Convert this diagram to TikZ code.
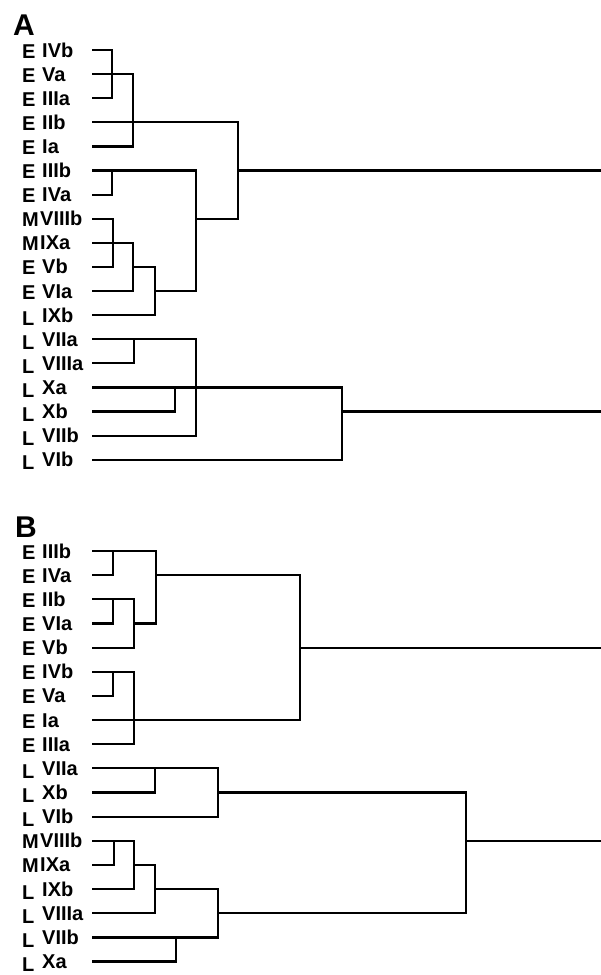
\documentclass[tikz,border=0pt]{standalone}
\usepackage{fontspec}
\setmainfont{Liberation Sans}
\begin{document}
\begin{tikzpicture}[x=1pt,y=-1pt,
  tree/.style={line width=2.2pt, line join=miter},
  lab/.style={font=\bfseries\fontsize{20}{20}\selectfont, inner sep=0pt, anchor=base west},
  panel/.style={font=\bfseries\fontsize{30}{30}\selectfont, inner sep=0pt, anchor=base west},
  pE/.style={yshift=-1pt}, pM/.style={yshift=-1pt}, pL/.style={yshift=-3pt},
  sE/.style={}, sM/.style={xshift=-2pt}, sL/.style={}]
\useasboundingbox (0,0) rectangle (601,975);
% column coordinates
\foreach \v in {112,113,114,133,134,155,156,175,176,196,218,238,300,342,466}
  \coordinate (x\v) at (\v,0);
\coordinate (xR) at (601,0);
% panel letters
\node[panel] (A) at (13,35) {A};
\node[panel] (B) at (15,537) {B};
% panel A rows
\foreach [count=\i from 0] \p/\s in {E/IVb,E/Va,E/IIIa,E/IIb,E/Ia,E/IIIb,E/IVa,M/VIIIb,M/IXa,E/Vb,E/VIa,L/IXb,L/VIIa,L/VIIIa,L/Xa,L/Xb,L/VIIb,L/VIb}{
  \coordinate (a\i) at (92,50+24.1*\i);
  \node[lab,p\p] (pa\i) at (22,57+24.1*\i) {\p};
  \node[lab,s\p] (sa\i) at (42,57+24.1*\i) {\s};
}
% panel B rows
\foreach [count=\i from 0] \p/\s in {E/IIIb,E/IVa,E/IIb,E/VIa,E/Vb,E/IVb,E/Va,E/Ia,E/IIIa,L/VIIa,L/Xb,L/VIb,M/VIIIb,M/IXa,L/IXb,L/VIIIa,L/VIIb,L/Xa}{
  \coordinate (b\i) at (92,551+24.15*\i);
  \node[lab,p\p] (pb\i) at (22,558+24.15*\i) {\p};
  \node[lab,s\p] (sb\i) at (42,558+24.15*\i) {\s};
}
% tree A
\draw[tree] (a0) -- (a0-|x112) -- (a2-|x112) -- (a2);
\draw[tree] (a1) -- (a1-|x133) -- (a4-|x133) -- (a4);
\draw[tree] (a3) -- (a3-|x238) -- (a7-|x238) -- (a7-|x196);
\draw[tree] (a5-|x238) -- (a5-|xR);
\draw[tree] (a5) -- (a5-|x196) -- (a10-|x196) -- (a10-|x155);
\draw[tree] (a6) -- (a6-|x112) -- (a5-|x112);
\draw[tree] (a7) -- (a7-|x113) -- (a9-|x113) -- (a9);
\draw[tree] (a8) -- (a8-|x133) -- (a10-|x133) -- (a10);
\draw[tree] (a9-|x133) -- (a9-|x155) -- (a11-|x155) -- (a11);
\draw[tree] (a12) -- (a12-|x196) -- (a16-|x196) -- (a16);
\draw[tree] (a13) -- (a13-|x134) -- (a12-|x134);
\draw[tree] (a14) -- (a14-|x342) -- (a17-|x342) -- (a17);
\draw[tree] (a15) -- (a15-|x175) -- (a14-|x175);
\draw[tree] (a15-|x342) -- (a15-|xR);
% tree B
\draw[tree] (b0) -- (b0-|x156) -- (b3-|x156) -- (b3-|x134);
\draw[tree] (b1) -- (b1-|x113) -- (b0-|x113);
\draw[tree] (b2) -- (b2-|x134) -- (b4-|x134) -- (b4);
\draw[tree] (b3) -- (b3-|x113) -- (b2-|x113);
\draw[tree] (b1-|x156) -- (b1-|x300) -- (b7-|x300) -- (b7);
\draw[tree] (b4-|x300) -- (b4-|xR);
\draw[tree] (b5) -- (b5-|x134) -- (b8-|x134) -- (b8);
\draw[tree] (b6) -- (b6-|x113) -- (b5-|x113);
\draw[tree] (b9) -- (b9-|x218) -- (b11-|x218) -- (b11);
\draw[tree] (b10) -- (b10-|x155) -- (b9-|x155);
\draw[tree] (b10-|x218) -- (b10-|x466) -- (b15-|x466) -- (b15-|x218);
\draw[tree] (b12-|x466) -- (b12-|xR);
\draw[tree] (b12) -- (b12-|x134) -- (b14-|x134) -- (b14);
\draw[tree] (b13) -- (b13-|x114) -- (b12-|x114);
\draw[tree] (b13-|x134) -- (b13-|x155) -- (b15-|x155) -- (b15);
\draw[tree] (b14-|x155) -- (b14-|x218) -- (b16-|x218) -- (b16);
\draw[tree] (b17) -- (b17-|x176) -- (b16-|x176);
\end{tikzpicture}
\end{document}
